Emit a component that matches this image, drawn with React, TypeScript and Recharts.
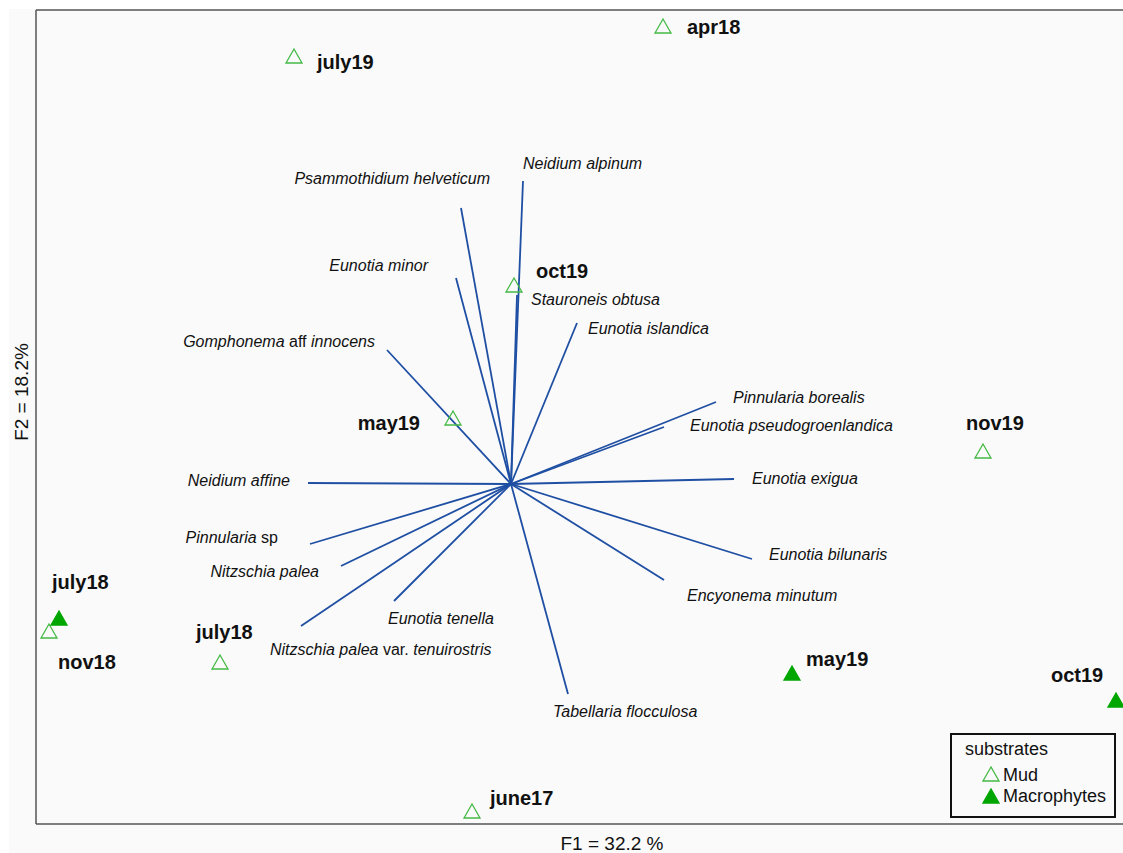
import { ScatterChart, Scatter, XAxis, YAxis } from 'recharts';

// species arrows (F1 / F2 loadings, tip of each arrow)
const speciesNames = [
  'Neidium alpinum',
  'Psammothidium helveticum',
  'Eunotia minor',
  'Stauroneis obtusa',
  'Eunotia islandica',
  'Gomphonema aff innocens',
  'Pinnularia borealis',
  'Eunotia pseudogroenlandica',
  'Eunotia exigua',
  'Neidium affine',
  'Pinnularia sp',
  'Nitzschia palea',
  'Nitzschia palea var. tenuirostris',
  'Eunotia tenella',
  'Tabellaria flocculosa',
  'Encyonema minutum',
  'Eunotia bilunaris',
];
const speciesF1 = [0.12, -0.5, -0.55, 0.06, 0.66, -1.24, 2.05, 1.53, 2.23, -2.03, -2.01, -1.7, -2.1, -1.17, 0.57, 1.53, 2.41];
const speciesF2 = [3.03, 2.76, 2.06, 1.89, 1.61, 1.34, 0.82, 0.57, 0.05, 0.01, -0.6, -0.82, -1.42, -1.17, -2.1, -0.96, -0.75];

// samples
const siteNames = ['apr18', 'july19', 'oct19', 'may19', 'nov19', 'july18', 'nov18', 'june17', 'july18', 'may19', 'oct19'];
const siteF1 = [1.52, -2.17, 0.03, -0.58, 4.72, -2.91, -4.62, -0.39, -4.52, 2.81, 6.05];
const siteF2 = [4.57, 4.27, 1.98, 0.65, 0.32, -1.79, -1.48, -3.28, -1.35, -1.9, -2.17];
const siteSubstrate = ['Mud', 'Mud', 'Mud', 'Mud', 'Mud', 'Mud', 'Mud', 'Mud', 'Macrophytes', 'Macrophytes', 'Macrophytes'];

// label placement, pixels from the point
const speciesLabelDx = [0, 29, -28, 14, 11, -12, 17, 26, 18, -18, -32, -22, -31, -6, -15, 23, 17];
const speciesLabelDy = [-18, -30, -13, 4, 5, -9, -5, -2, -1, -3, -7, 5, 23, 17, 17, 15, -5];
const speciesLabelAnchor = ['start', 'end', 'end', 'start', 'start', 'end', 'start', 'start', 'start', 'end', 'end', 'end', 'start', 'start', 'start', 'start', 'start'];
const siteLabelDx = [24, 23, 22, -33, -17, -24, 9, 18, -7, 14, -65];
const siteLabelDy = [0, 5, -15, 4, -29, -31, 30, -14, -37, -15, -26];
const siteLabelAnchor = ['start', 'start', 'start', 'end', 'start', 'start', 'start', 'start', 'start', 'start', 'start'];

const X_MIN = -4.75;
const X_MAX = 6.19;
const Y_MIN = -3.4;
const Y_MAX = 4.74;

const FONT = '"Liberation Sans", Arial, sans-serif';
const ARROW = '#1f4fa3';
const MUD = '#44b944';
const MACRO = '#00a600';
const AXIS = '#555';
const plainWords = ['aff', 'sp', 'var.'];

const species = speciesNames.map((name, i) => ({
  name,
  x: speciesF1[i],
  y: speciesF2[i],
  dx: speciesLabelDx[i],
  dy: speciesLabelDy[i],
  anchor: speciesLabelAnchor[i],
}));

const sites = siteNames.map((name, i) => ({
  name,
  x: siteF1[i],
  y: siteF2[i],
  substrate: siteSubstrate[i],
  dx: siteLabelDx[i],
  dy: siteLabelDy[i],
  anchor: siteLabelAnchor[i],
}));

const triangle = (cx: number, cy: number) =>
  `M${cx},${cy - 8} L${cx - 8},${cy + 6} L${cx + 8},${cy + 6} Z`;

const SiteShape = (props: any) => {
  const { cx, cy, payload } = props;
  const filled = payload.substrate === 'Macrophytes';
  return (
    <g>
      <path
        d={triangle(cx, cy)}
        fill={filled ? MACRO : 'none'}
        stroke={filled ? MACRO : MUD}
        strokeWidth={1.3}
      />
      <text
        x={cx + payload.dx}
        y={cy + payload.dy}
        textAnchor={payload.anchor}
        dominantBaseline="central"
        fontSize={20}
        fontWeight="bold"
        fill="#111"
      >
        {payload.name}
      </text>
    </g>
  );
};

const SpeciesLabel = (props: any) => {
  const { cx, cy, payload } = props;
  const words = payload.name.split(' ');
  return (
    <text
      x={cx + payload.dx}
      y={cy + payload.dy}
      textAnchor={payload.anchor}
      dominantBaseline="central"
      fontSize={16}
      fill="#111"
    >
      {words.map((w: string, i: number) => (
        <tspan key={i} fontStyle={plainWords.includes(w) ? 'normal' : 'italic'}>
          {(i > 0 ? ' ' : '') + w}
        </tspan>
      ))}
    </text>
  );
};

const NoDot = () => <g />;

const XTitle = (props: any) => {
  const { x, y, width, height } = props.viewBox;
  return (
    <text x={x + width / 2 + 29} y={y + height + 18} textAnchor="middle" dominantBaseline="central" fontSize={19} fill="#111">
      F1 = 32.2 %
    </text>
  );
};

const YTitle = (props: any) => {
  const { x, y, height } = props.viewBox;
  const cx = x - 14;
  const cy = y + height / 2 - 25;
  return (
    <text x={cx} y={cy} transform={`rotate(-90 ${cx} ${cy})`} textAnchor="middle" dominantBaseline="central" fontSize={19} fill="#111">
      F2 = 18.2%
    </text>
  );
};

const LegendTriangle = ({ filled }: { filled: boolean }) => (
  <svg width={18} height={16} style={{ position: 'absolute', left: -9, top: -8 }}>
    <path d={triangle(9, 9)} fill={filled ? MACRO : 'none'} stroke={filled ? MACRO : MUD} strokeWidth={1.3} />
  </svg>
);

export default function App() {
  return (
    <div
      style={{
        position: 'absolute',
        left: 9,
        top: 9,
        width: 1114,
        height: 844,
        overflow: 'hidden',
        background: '#fafafa',
        fontFamily: FONT,
      }}
    >
      <ScatterChart width={1121} height={844} margin={{ top: 0, right: 0, bottom: 28, left: 26 }}>
        <XAxis
          type="number"
          dataKey="x"
          domain={[X_MIN, X_MAX]}
          allowDataOverflow
          tick={false}
          tickLine={false}
          height={1}
          axisLine={{ stroke: AXIS, strokeWidth: 1.5 }}
          label={<XTitle />}
        />
        <XAxis
          xAxisId="top"
          orientation="top"
          type="number"
          domain={[X_MIN, X_MAX]}
          allowDataOverflow
          tick={false}
          tickLine={false}
          height={1}
          axisLine={{ stroke: AXIS, strokeWidth: 1.5 }}
        />
        <YAxis
          type="number"
          dataKey="y"
          domain={[Y_MIN, Y_MAX]}
          allowDataOverflow
          tick={false}
          tickLine={false}
          width={1}
          axisLine={{ stroke: AXIS, strokeWidth: 1.5 }}
          label={<YTitle />}
        />
        {species.map((s) => (
          <Scatter
            key={s.name}
            data={[{ x: 0, y: 0 }, { x: s.x, y: s.y }]}
            line={{ stroke: ARROW, strokeWidth: 1.8 }}
            shape={NoDot}
            isAnimationActive={false}
          />
        ))}
        <Scatter data={species} shape={SpeciesLabel} isAnimationActive={false} />
        <Scatter data={sites} shape={SiteShape} isAnimationActive={false} />
      </ScatterChart>

      <div
        style={{
          position: 'absolute',
          left: 941,
          top: 724,
          width: 166,
          height: 85,
          boxSizing: 'border-box',
          border: '2px solid #111',
          background: '#fafafa',
          fontSize: 18,
          lineHeight: '18px',
          color: '#111',
        }}
      >
        <div style={{ position: 'absolute', left: 13, top: 5 }}>substrates</div>
        <div style={{ position: 'absolute', left: 39, top: 39 }}>
          <LegendTriangle filled={false} />
        </div>
        <div style={{ position: 'absolute', left: 51, top: 31 }}>Mud</div>
        <div style={{ position: 'absolute', left: 39, top: 61 }}>
          <LegendTriangle filled />
        </div>
        <div style={{ position: 'absolute', left: 51, top: 52 }}>Macrophytes</div>
      </div>
    </div>
  );
}
